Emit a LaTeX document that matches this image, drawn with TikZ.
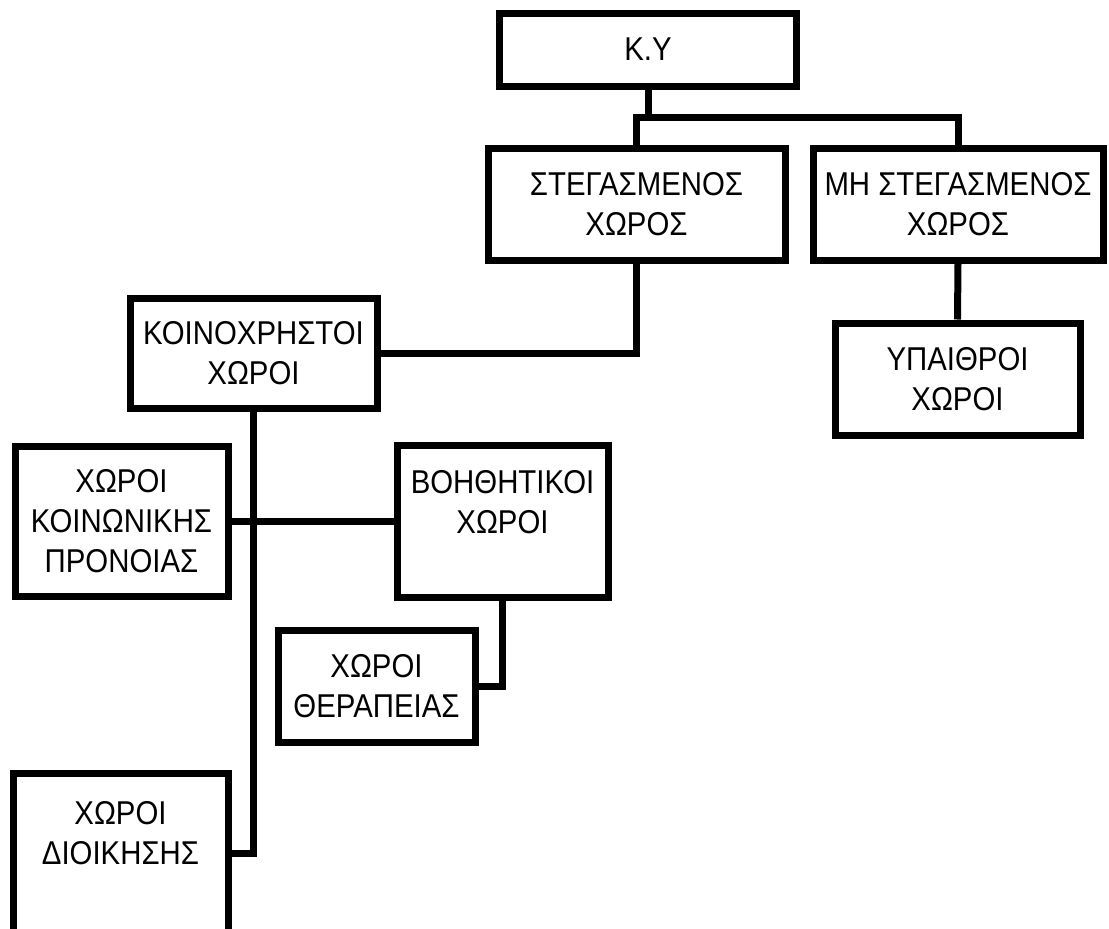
\documentclass[tikz,border=0pt]{standalone}
\usepackage{fontspec}
\setmainfont{Liberation Sans}[FakeStretch=0.89]

\begin{document}
\begin{tikzpicture}[x=1pt,y=-1pt,
    box/.style={draw,line width=7pt,align=center,inner sep=0pt,
      font=\fontsize{33}{40}\selectfont},
    link/.style={line width=7pt}]
\useasboundingbox (0,0) rectangle (1109,929);
\clip (0,0) rectangle (1109,929);

% top level
\node[box,minimum width=297pt,minimum height=73pt] (ky) at (648,49.5) {Κ.Υ};
\node[box,minimum width=297pt,minimum height=112pt] (steg) at (636.5,204) {ΣΤΕΓΑΣΜΕΝΟΣ\\ΧΩΡΟΣ};
\node[box,minimum width=290pt,minimum height=112pt] (mh) at (958,204) {ΜΗ ΣΤΕΓΑΣΜΕΝΟΣ\\ΧΩΡΟΣ};
\node[box,minimum width=245pt,minimum height=112pt] (ypaith) at (957.5,379) {ΥΠΑΙΘΡΟΙ\\ΧΩΡΟΙ};
\node[box,minimum width=247pt,minimum height=110pt] (koin) at (253.5,353) {ΚΟΙΝΟΧΡΗΣΤΟΙ\\ΧΩΡΟΙ};

% under koin
\node[box,minimum width=213pt,minimum height=150pt] (pron) at (121.5,521.5) {ΧΩΡΟΙ\\ΚΟΙΝΩΝΙΚΗΣ\\ΠΡΟΝΟΙΑΣ};
\node[box,minimum width=211pt,minimum height=152pt] (voith) at (502.5,521.5) {ΒΟΗΘΗΤΙΚΟΙ\\ΧΩΡΟΙ\\\mbox{}};
\node[box,minimum width=197pt,minimum height=112pt] (ther) at (376.5,686) {ΧΩΡΟΙ\\ΘΕΡΑΠΕΙΑΣ};
\node[box,minimum width=215pt,minimum height=160pt] (dioik) at (120.5,853) {ΧΩΡΟΙ\\ΔΙΟΙΚΗΣΗΣ\\\mbox{}};

\coordinate (split) at (648,117);
\draw[link] (ky.south) -- (split);
\draw[link] (steg.north) |- (split) -| (mh.north);
\draw[link] (steg.south) |- (koin.east);
\draw[link] (mh.south) -- (ypaith.north);
\draw[link] (koin.south) |- (dioik.east);
\draw[link] (pron.east) -- (voith.west);
\draw[link] (voith.south) |- (ther.east);
\end{tikzpicture}
\end{document}
